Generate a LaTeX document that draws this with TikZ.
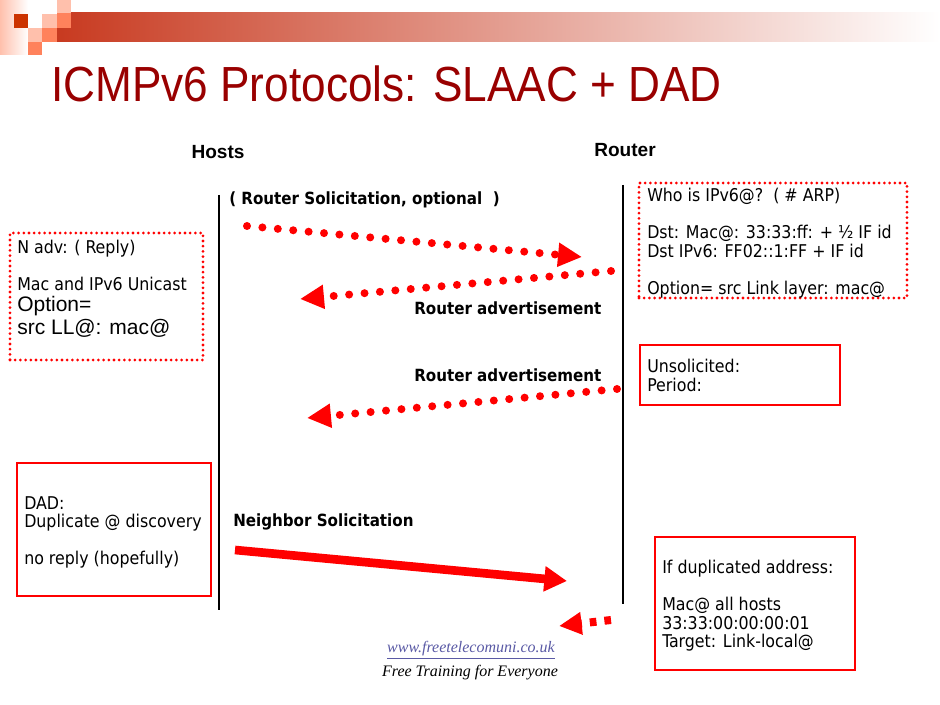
\documentclass[tikz,border=0pt]{standalone}
\usepackage{fontspec}
\setmainfont{Liberation Sans}
\IfFontExistsTF{DejaVu Sans Condensed}{\newfontfamily\tah{DejaVu Sans Condensed}}{\newfontfamily\tah{DejaVu Sans}[FakeStretch=0.9]}
\newfontfamily\serifit{Liberation Serif}
\usetikzlibrary{arrows.meta,fit}
\definecolor{titlered}{RGB}{153,0,0}
\definecolor{hdr}{RGB}{200,58,32}
\definecolor{sqdark}{RGB}{204,51,0}
\definecolor{sqpale}{RGB}{255,192,172}
\definecolor{sqmid}{RGB}{255,130,92}
\definecolor{urlc}{RGB}{90,90,165}
\tikzset{
  lifeline/.style={line width=2.2pt, black},
  dotarrow/.style={red, line width=6pt, line cap=round, dash pattern=on 0pt off 11.6pt,
     -{Triangle[length=18pt,width=17pt]}},
  solidarrow/.style={red, line width=6.5pt, -{Triangle[length=17pt,width=18pt]}},
  dasharrow/.style={red, line width=6pt, dash pattern=on 5pt off 6pt, -{Triangle[length=17pt,width=16pt]}},
  dotbox/.style={draw=red, line width=2.3pt, dash pattern=on 0pt off 3.9pt, line cap=round, inner sep=0pt},
  solidbox/.style={draw=red, line width=2.2pt, inner sep=0pt},
  txt/.style={font=\tah\fontsize{13.2}{13.9}\selectfont, align=left, inner sep=0pt, anchor=north west},
  lbl/.style={font=\tah\bfseries\fontsize{12.6}{14}\selectfont, inner sep=0pt, anchor=west},
  head/.style={font=\bfseries\fontsize{14.3}{16}\selectfont, inner sep=0pt},
}
\begin{document}
\begin{tikzpicture}[x=0.75pt,y=-0.75pt]
\useasboundingbox (0,0) rectangle (940,705);
% header decoration
\shade[left color=sqpale, right color=white] (0,0) rectangle (28,55);
\shade[left color=hdr, right color=white] (57,13) rectangle (940,42);
\fill[sqdark] (14,14) rectangle (28,28);
\fill[sqpale] (57,0) rectangle (71,13);
\fill[sqpale] (42,14) rectangle (57,28);
\fill[sqmid] (57,13) rectangle (71,28);
\fill[sqpale] (28,28) rectangle (42,42);
\fill[sqmid] (42,28) rectangle (57,42);
\fill[sqmid] (28,42) rectangle (42,55);
% title
\node[anchor=west, inner sep=0pt, text=titlered, font=\fontsize{37}{40}\selectfont] (title) at (51,84)
  {\scalebox{0.895}[1]{ICMPv6 Protocols: SLAAC + DAD}};
% headings
\node[head] (hosts) at (218,152) {Hosts};
\node[head] (router) at (625,150) {Router};
% lifelines
\coordinate (h1) at (219,195); \coordinate (h2) at (219,610);
\coordinate (r1) at (623,185); \coordinate (r2) at (623,604);
\draw[lifeline] (h1) -- (h2);
\draw[lifeline] (r1) -- (r2);
% boxes
\node[dotbox, fit={(10,233) (203,360)}] (lbox) {};
\node[dotbox, fit={(639,183) (907,298)}] (rbox) {};
\node[solidbox, fit={(640,345) (840,405)}] (ubox) {};
\node[solidbox, fit={(17,463) (211,596)}] (dbox) {};
\node[solidbox, fit={(655,537) (855,670)}] (ibox) {};
% box texts
\node[txt] (rtxt) at (647,188) {Who is IPv6@?~~( \# ARP)\\[13.9pt]Dst: Mac@: 33:33:ff: + ½ IF id\\Dst IPv6: FF02::1:FF + IF id\\[13.9pt]Option= src Link layer: mac@};
\node[txt] (ltxt) at (17,240) {N adv: ( Reply)\\[13.9pt]Mac and IPv6 Unicast};
\node[txt, font=\fontsize{15.75}{17.25}\selectfont] (ltxt2) at (17,296) {Option=\\src LL@: mac@};
\node[txt] (utxt) at (647,359) {Unsolicited:\\Period:};
\node[txt] (dtxt) at (24,496) {DAD:\\Duplicate @ discovery\\[13.9pt]no reply (hopefully)};
\node[txt] (itxt) at (662,560) {If duplicated address:\\[13.9pt]Mac@ all hosts\\33:33:00:00:00:01\\Target: Link-local@};
% labels
\node[lbl] (rs) at (229,200) {( Router Solicitation, optional~~)};
\node[lbl] (ra1) at (414,308) {Router advertisement};
\node[lbl] (ra2) at (414,375) {Router advertisement};
\node[lbl] (ns) at (233,522) {Neighbor Solicitation};
% arrows
\coordinate (a1s) at (247,226); \coordinate (a1e) at (582,257);
\coordinate (a2s) at (611,271); \coordinate (a2e) at (300,299);
\coordinate (a3s) at (617,389); \coordinate (a3e) at (307,418);
\coordinate (a4s) at (235,550); \coordinate (a4e) at (567,581);
\coordinate (a5s) at (611,620); \coordinate (a5e) at (559,626);
\draw[dotarrow] (a1s) -- (a1e);
\draw[dotarrow] (a2s) -- (a2e);
\draw[dotarrow] (a3s) -- (a3e);
\draw[solidarrow] (a4s) -- (a4e);
\draw[dasharrow] (a5s) -- (a5e);
% footer
\node[inner sep=0pt, text=urlc, font=\serifit\itshape\fontsize{12}{14}\selectfont] (url) at (471,650) {\underline{www.freetelecomuni.co.uk}};
\node[inner sep=0pt, font=\serifit\itshape\fontsize{12}{14}\selectfont] (free) at (470,673) {Free Training for Everyone};
\end{tikzpicture}
\end{document}
